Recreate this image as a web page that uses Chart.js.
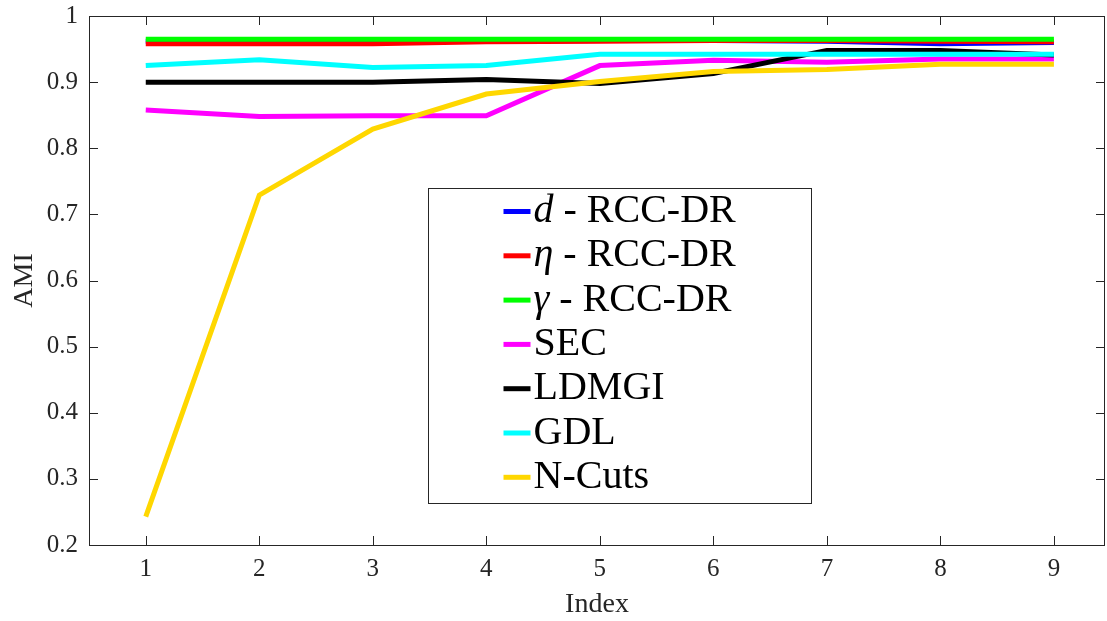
<!DOCTYPE html>
<html>
<head>
<meta charset="utf-8">
<script src="https://cdn.jsdelivr.net/npm/chart.js@4/dist/chart.umd.min.js"></script>
<style>
  html, body { margin: 0; padding: 0; background: #fff; }
  #wrap { width: 1107px; height: 621px; }
</style>
</head>
<body>
<div id="wrap"><canvas id="ami"></canvas></div>
<script>
// x positions (Index) and tick labels of the y axis
const indexValues = [1, 2, 3, 4, 5, 6, 7, 8, 9];
const yTickValues = [0.2, 0.3, 0.4, 0.5, 0.6, 0.7, 0.8, 0.9, 1];

const seriesNames = ['d - RCC-DR', 'η - RCC-DR', 'γ - RCC-DR', 'SEC', 'LDMGI', 'GDL', 'N-Cuts'];
const seriesColors = ['#0000ff', '#ff0000', '#00ff00', '#ff00ff', '#000000', '#00ffff', '#ffd700'];

// AMI per index for each method
const dRcc    = [0.962, 0.962, 0.962, 0.962, 0.963, 0.963, 0.962, 0.958, 0.960];
const etaRcc  = [0.958, 0.958, 0.958, 0.961, 0.962, 0.963, 0.963, 0.962, 0.961];
const gammaRcc = [0.965, 0.965, 0.965, 0.965, 0.965, 0.965, 0.965, 0.965, 0.965];
const sec     = [0.858, 0.848, 0.849, 0.849, 0.925, 0.933, 0.930, 0.935, 0.935];
const ldmgi   = [0.900, 0.900, 0.900, 0.904, 0.898, 0.913, 0.948, 0.948, 0.941];
const gdl     = [0.925, 0.934, 0.922, 0.925, 0.942, 0.942, 0.942, 0.942, 0.942];
const nCuts   = [0.243, 0.729, 0.829, 0.882, 0.901, 0.916, 0.919, 0.927, 0.927];

const seriesValues = [dRcc, etaRcc, gammaRcc, sec, ldmgi, gdl, nCuts];

const AXIS_COLOR = '#262626';
const SERIF = '"Liberation Serif", "DejaVu Serif", serif';

// box around the axes with inward ticks on all four sides
const frame = {
  id: 'frame',
  afterDatasetsDraw(chart) {
    const { ctx, chartArea: a, scales } = chart;
    const len = 9;
    ctx.save();
    ctx.strokeStyle = AXIS_COLOR;
    ctx.lineWidth = 1;
    ctx.beginPath();
    scales.x.ticks.forEach(t => {
      const px = Math.round(scales.x.getPixelForValue(t.value)) + 0.5;
      ctx.moveTo(px, a.bottom); ctx.lineTo(px, a.bottom - len);
      ctx.moveTo(px, a.top); ctx.lineTo(px, a.top + len);
    });
    scales.y.ticks.forEach(t => {
      const py = Math.round(scales.y.getPixelForValue(t.value)) + 0.5;
      ctx.moveTo(a.left, py); ctx.lineTo(a.left + len, py);
      ctx.moveTo(a.right, py); ctx.lineTo(a.right - len, py);
    });
    ctx.stroke();
    ctx.strokeRect(Math.round(a.left) + 0.5, Math.round(a.top) + 0.5,
                   Math.round(a.right - a.left) - 1, Math.round(a.bottom - a.top));
    ctx.restore();
  }
};

// legend box inside the plot, single-letter prefixes set in italics
const boxLegend = {
  id: 'boxLegend',
  afterDraw(chart) {
    const { ctx, chartArea: a } = chart;
    const w = a.right - a.left, h = a.bottom - a.top;
    const x0 = Math.round(a.left + w * 0.334) + 0.5;
    const y0 = Math.round(a.top + h * 0.325) + 0.5;
    const x1 = Math.round(a.left + w * 0.711) + 0.5;
    const y1 = Math.round(a.top + h * 0.921) + 0.5;
    ctx.save();
    ctx.fillStyle = '#fff';
    ctx.fillRect(x0, y0, x1 - x0, y1 - y0);
    ctx.strokeStyle = AXIS_COLOR;
    ctx.lineWidth = 1;
    ctx.strokeRect(x0, y0, x1 - x0, y1 - y0);

    const rowGap = 44.3;
    const firstRow = y0 + 23;
    const lineX = x0 + 75, lineLen = 27;
    ctx.textBaseline = 'middle';
    ctx.textAlign = 'left';
    chart.data.datasets.forEach((ds, i) => {
      const y = firstRow + i * rowGap;
      ctx.strokeStyle = ds.borderColor;
      ctx.lineWidth = 5;
      ctx.beginPath();
      ctx.moveTo(lineX, y); ctx.lineTo(lineX + lineLen, y);
      ctx.stroke();

      ctx.fillStyle = '#000';
      let tx = lineX + lineLen + 3;
      let text = ds.label;
      const m = text.match(/^(\S) (- .*)$/);
      if (m) {
        ctx.font = 'italic 40px ' + SERIF;
        ctx.fillText(m[1], tx, y);
        tx += ctx.measureText(m[1]).width;
        text = ' ' + m[2];
      }
      ctx.font = '40px ' + SERIF;
      ctx.fillText(text, tx, y);
    });
    ctx.restore();
  }
};

const ctx = document.getElementById('ami').getContext('2d');
new Chart(ctx, {
  type: 'line',
  data: {
    datasets: seriesNames.map((name, i) => ({
      label: name,
      data: indexValues.map((x, j) => ({ x: x, y: seriesValues[i][j] })),
      borderColor: seriesColors[i],
      backgroundColor: seriesColors[i],
      borderWidth: 5,
      pointRadius: 0,
      tension: 0,
      fill: false,
      // later methods sit on top
      order: seriesNames.length - i
    }))
  },
  options: {
    responsive: true,
    maintainAspectRatio: false,
    animation: false,
    events: [],
    layout: { padding: { top: 16, right: 2, left: 0, bottom: 0 } },
    plugins: {
      legend: { display: false },
      tooltip: { enabled: false }
    },
    scales: {
      x: {
        type: 'linear',
        min: 0.5,
        max: 9.45,
        afterBuildTicks: s => { s.ticks = indexValues.map(v => ({ value: v })); },
        afterFit: s => { s.height = 76; s.paddingLeft = 0; s.paddingRight = 0; },
        grid: { display: false, drawTicks: false, tickLength: 0 },
        border: { display: false },
        ticks: {
          color: AXIS_COLOR,
          padding: 9,
          font: { family: SERIF, size: 25 },
          maxRotation: 0
        },
        title: {
          display: true,
          text: 'Index',
          color: AXIS_COLOR,
          font: { family: SERIF, size: 28 },
          padding: { top: 0, bottom: 0 }
        }
      },
      y: {
        min: 0.2,
        max: 1,
        afterBuildTicks: s => { s.ticks = yTickValues.map(v => ({ value: v })); },
        afterFit: s => { s.width = 89; s.paddingTop = 0; s.paddingBottom = 0; },
        grid: { display: false, drawTicks: false, tickLength: 0 },
        border: { display: false },
        ticks: {
          color: AXIS_COLOR,
          padding: 11,
          font: { family: SERIF, size: 25 },
          callback: v => String(Number(v.toFixed(1)))
        },
        title: {
          display: true,
          text: 'AMI',
          color: AXIS_COLOR,
          font: { family: SERIF, size: 28 },
          padding: { top: 8, bottom: 0 }
        }
      }
    }
  },
  plugins: [frame, boxLegend]
});
</script>
</body>
</html>
